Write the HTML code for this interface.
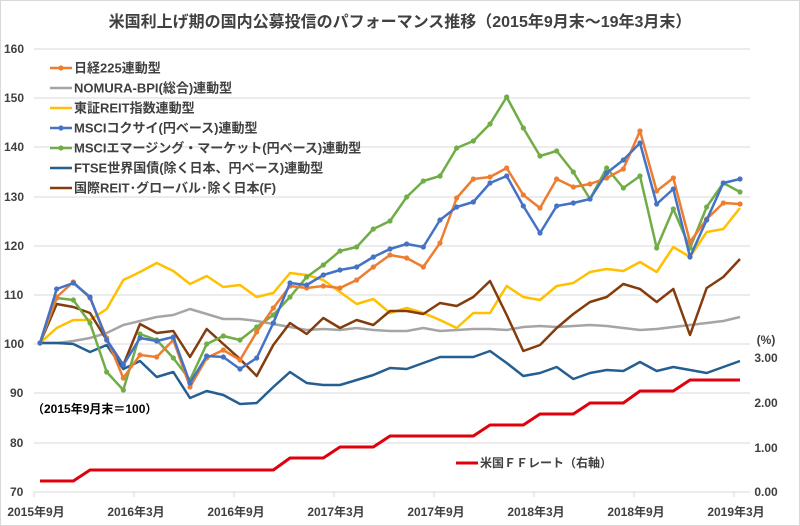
<!DOCTYPE html>
<html><head><meta charset="utf-8"><style>
body{margin:0;background:#fff;}
svg{display:block;font-family:"Liberation Sans","Noto Sans CJK JP",sans-serif;}
</style></head><body>
<svg id="c" width="800" height="526" viewBox="0 0 800 526" xmlns="http://www.w3.org/2000/svg">
<rect x="0.5" y="0.5" width="799" height="525" fill="#fff" stroke="#d9d9d9"/>
<text x="400" y="27" text-anchor="middle" font-size="16" font-weight="bold" fill="#404040">米国利上げ期の国内公募投信のパフォーマンス推移（2015年9月末～19年3月末）</text>
<g stroke="#d9d9d9" stroke-width="1">
<line x1="34" y1="49" x2="750" y2="49"/><line x1="34" y1="98" x2="750" y2="98"/><line x1="34" y1="147" x2="750" y2="147"/><line x1="34" y1="197" x2="750" y2="197"/><line x1="34" y1="246" x2="750" y2="246"/><line x1="34" y1="295" x2="750" y2="295"/><line x1="34" y1="344" x2="750" y2="344"/><line x1="34" y1="393" x2="750" y2="393"/><line x1="34" y1="443" x2="750" y2="443"/><line x1="34" y1="492" x2="750" y2="492"/>
<line x1="34" y1="492" x2="34" y2="497"/><line x1="134" y1="492" x2="134" y2="497"/><line x1="234" y1="492" x2="234" y2="497"/><line x1="334" y1="492" x2="334" y2="497"/><line x1="434" y1="492" x2="434" y2="497"/><line x1="534" y1="492" x2="534" y2="497"/><line x1="634" y1="492" x2="634" y2="497"/><line x1="734" y1="492" x2="734" y2="497"/>
</g>
<g font-size="12" font-weight="bold" fill="#404040">
<text x="4" y="53">160</text><text x="4" y="102">150</text><text x="4" y="151">140</text><text x="4" y="201">130</text><text x="4" y="250">120</text><text x="4" y="299">110</text><text x="4" y="348">100</text><text x="10" y="397">90</text><text x="10" y="447">80</text><text x="10" y="496">70</text>
<text x="766" y="362" text-anchor="middle">3.00</text><text x="766" y="407" text-anchor="middle">2.00</text><text x="766" y="452" text-anchor="middle">1.00</text><text x="766" y="496" text-anchor="middle">0.00</text>
<text x="766" y="344" text-anchor="middle">(%)</text>
<g text-anchor="middle"><text x="36" y="516">2015年9月</text><text x="136" y="516">2016年3月</text><text x="236" y="516">2016年9月</text><text x="336" y="516">2017年3月</text><text x="436" y="516">2017年9月</text><text x="536" y="516">2018年3月</text><text x="636" y="516">2018年9月</text><text x="736" y="516">2019年3月</text></g>
<text x="32" y="413" fill="#000">（2015年9月末＝100）</text>
<text x="480" y="467" fill="#404040">米国ＦＦレート（右軸）</text>
</g>
<line x1="456" y1="463" x2="478" y2="463" stroke="#e0000b" stroke-width="3"/>
<g id="series"></g>
<g id="leg" font-size="13" font-weight="bold" fill="#404040"></g>
</svg>
<script>
var S=[
["#a5a5a5",0,[343,343,341,338,333,325,321,317,315,309,314,319,319,321,324,327,330,329,330,328,330,331,331,328,331,330,329,329,330,327,326,327,326,325,326,328,330,329,327,325,323,321,317]],
["#ffc000",0,[343,328,320,320,309,280,272,263,271,284,276,287,285,297,293,273,275,280,292,304,299,313,308,313,320,328,313,313,286,297,300,286,283,272,269,271,262,272,247,257,232,229,208]],
["#255e91",0,[343,343,344,352,345,369,361,377,372,398,391,395,404,403,387,372,383,385,385,380,375,368,369,363,357,357,357,351,363,376,373,367,379,373,370,371,362,371,367,370,373,367,361]],
["#843c0c",0,[343,304,307,313,340,365,324,333,331,357,329,344,359,376,345,323,334,318,328,320,325,311,311,314,303,306,297,281,315,351,345,328,314,302,297,284,289,302,289,335,288,277,259]],
["#70ad47",1,[343,298,300,323,372,390,334,340,358,380,344,336,340,327,315,297,277,265,251,247,229,221,197,181,176,148,141,124,97,128,156,151,172,199,168,188,176,248,209,248,207,183,192]],
["#ed7d31",1,[343,297,282,298,338,378,355,357,340,387,358,350,360,332,308,286,288,286,288,280,267,255,258,267,243,198,179,177,168,195,208,179,187,184,178,169,131,191,178,242,219,203,204]],
["#4472c4",1,[343,289,283,297,340,365,338,341,337,383,356,357,369,358,323,283,285,275,270,267,257,249,244,247,220,207,202,183,176,206,233,206,203,199,173,160,143,204,189,257,220,183,179]],
["#e0000b",0,[481,481,481,470,470,470,470,470,470,470,470,470,470,470,470,458,458,458,447,447,447,436,436,436,436,436,436,425,425,425,414,414,414,403,403,403,391,391,391,380,380,380,380]]
];
var g=document.getElementById('series'),ns="http://www.w3.org/2000/svg";
S.forEach(function(s){
 var pts=s[2].map(function(y,i){return (40+i*700/42).toFixed(1)+","+y;});
 var p=document.createElementNS(ns,"polyline");
 p.setAttribute("points",pts.join(" "));p.setAttribute("fill","none");p.setAttribute("stroke",s[0]);
 p.setAttribute("stroke-width",s[0]=="#e0000b"?3:2.5);p.setAttribute("stroke-linejoin","round");g.appendChild(p);
 if(s[1]) s[2].forEach(function(y,i){var c=document.createElementNS(ns,"circle");c.setAttribute("cx",40+i*700/42);c.setAttribute("cy",y);c.setAttribute("r",2.6);c.setAttribute("fill",s[0]);g.appendChild(c);});
});
var L=[["#ed7d31","日経225連動型",1],["#a5a5a5","NOMURA-BPI(総合)連動型",0],["#ffc000","東証REIT指数連動型",0],["#4472c4","MSCIコクサイ(円ベース)連動型",1],["#70ad47","MSCIエマージング・マーケット(円ベース)連動型",1],["#255e91","FTSE世界国債(除く日本、円ベース)連動型",0],["#843c0c","国際REIT･グローバル･除く日本(F)",0]];
var lg=document.getElementById('leg');
L.forEach(function(l,i){var y=68+i*20;
 lg.insertAdjacentHTML('beforeend','<line x1="50" y1="'+y+'" x2="72" y2="'+y+'" stroke="'+l[0]+'" stroke-width="2.5"/>'+(l[2]?'<circle cx="61" cy="'+y+'" r="2.6" fill="'+l[0]+'"/>':'')+'<text x="74" y="'+(y+4.5)+'">'+l[1]+'</text>');
});
</script>
</body></html>
